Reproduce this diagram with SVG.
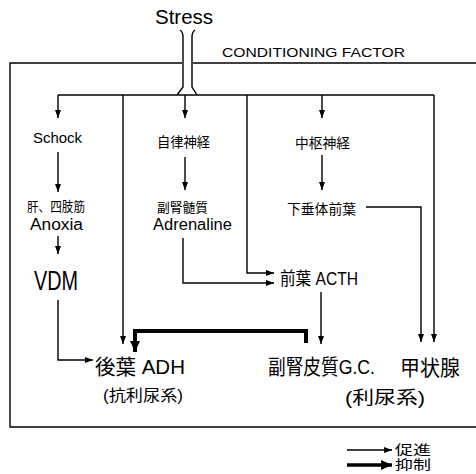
<svg xmlns="http://www.w3.org/2000/svg" width="476" height="474" viewBox="0 0 476 474">
<defs>
<marker id="a" markerUnits="userSpaceOnUse" markerWidth="8" markerHeight="6" refX="8" refY="3" orient="auto"><path d="M0,0 L8,3 L0,6 Z" fill="#000"/></marker>
<marker id="b" markerUnits="userSpaceOnUse" markerWidth="11" markerHeight="10" refX="11" refY="5" orient="auto"><path d="M0,0 L11,5 L0,10 Z" fill="#000"/></marker>
</defs>
<style>
.l{fill:none;stroke:#000;stroke-width:1.4}
.t{fill:none;stroke:#000;stroke-width:1.4;marker-end:url(#a)}
.k{fill:none;stroke:#000;stroke-width:4;marker-end:url(#b)}
text{font-family:"Liberation Sans","Noto Sans CJK JP",sans-serif;fill:#000;text-anchor:start}
</style>
<rect width="476" height="474" fill="#fff"/>
<g id="frame">
<path class="l" d="M182,63 H10 V427 H480 M193,63 H480"/>
</g>
<g id="connectors">
<path class="l" d="M180,30 Q183,32 183,37 V87 L177,95 M195,30 Q192,32 192,37 V87 L197,95"/>
<path class="l" d="M58,95 H434"/>
<path class="t" d="M58,95 V118"/>
<path class="t" d="M123,95 V344"/>
<path class="t" d="M185,95 V118"/>
<path class="t" d="M247,95 V273 H274"/>
<path class="t" d="M322,95 V118"/>
<path class="t" d="M434,95 V342"/>
<path class="t" d="M58,152 V192"/>
<path class="t" d="M58,236 V254"/>
<path class="t" d="M58,300 V360 H93"/>
<path class="t" d="M185,157 V190"/>
<path class="t" d="M183,238 V283 H274"/>
<path class="t" d="M322,155 V190"/>
<path class="t" d="M366,207 H421 V342"/>
<path class="t" d="M321,292 V344"/>
<path class="k" d="M306,343 V331 H135 V352"/>
<path class="t" d="M347,450 H392"/>
<path class="k" d="M347,465 H392" style="stroke-width:3.5"/>
</g>
<g id="stress"><text x="155" y="24" font-size="21" textLength="58" lengthAdjust="spacingAndGlyphs">Stress</text></g>
<g id="conditioning"><text x="222" y="57" font-size="13" textLength="183" lengthAdjust="spacingAndGlyphs">CONDITIONING FACTOR</text></g>
<g id="schock"><text x="33" y="143" font-size="15" textLength="49" lengthAdjust="spacingAndGlyphs">Schock</text></g>
<g id="jiritsu"><text x="157" y="147" font-size="14" textLength="53" lengthAdjust="spacingAndGlyphs">自律神経</text></g>
<g id="chusu"><text x="295" y="148" font-size="14" textLength="55" lengthAdjust="spacingAndGlyphs">中枢神経</text></g>
<g id="anoxia">
<text x="27" y="211" font-size="13" textLength="58" lengthAdjust="spacingAndGlyphs">肝、四肢筋</text>
<text x="30" y="230" font-size="16" textLength="53" lengthAdjust="spacingAndGlyphs">Anoxia</text>
</g>
<g id="adrenaline">
<text x="157" y="212" font-size="13" textLength="51" lengthAdjust="spacingAndGlyphs">副腎髄質</text>
<text x="153" y="230" font-size="16" textLength="79" lengthAdjust="spacingAndGlyphs">Adrenaline</text>
</g>
<g id="kasuitai"><text x="287" y="214" font-size="14" textLength="69" lengthAdjust="spacingAndGlyphs">下垂体前葉</text></g>
<g id="acth"><text x="280" y="285" font-size="18" textLength="78" lengthAdjust="spacingAndGlyphs">前葉 ACTH</text></g>
<g id="vdm"><text x="34" y="290" font-size="27" textLength="44" lengthAdjust="spacingAndGlyphs">VDM</text></g>
<g id="adh">
<text x="95" y="374" font-size="21" textLength="90" lengthAdjust="spacingAndGlyphs">後葉 ADH</text>
<text x="103" y="401" font-size="16" textLength="80" lengthAdjust="spacingAndGlyphs">(抗利尿系)</text>
</g>
<g id="gc">
<text x="268" y="374" font-size="21" textLength="107" lengthAdjust="spacingAndGlyphs">副腎皮質G.C.</text>
<text x="345" y="404" font-size="18" textLength="80" lengthAdjust="spacingAndGlyphs">(利尿系)</text>
</g>
<g id="thyroid"><text x="400" y="375" font-size="21" textLength="60" lengthAdjust="spacingAndGlyphs">甲状腺</text></g>
<g id="legend">
<text x="395" y="454" font-size="13" textLength="36" lengthAdjust="spacingAndGlyphs">促進</text>
<text x="395" y="469" font-size="13" textLength="36" lengthAdjust="spacingAndGlyphs">抑制</text>
</g>
</svg>
